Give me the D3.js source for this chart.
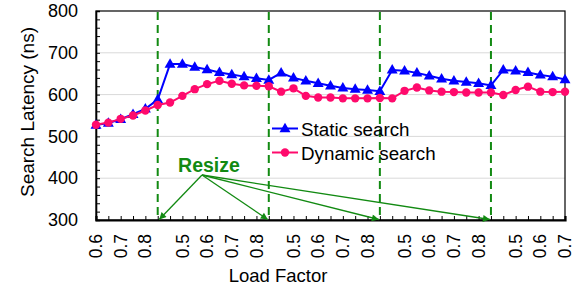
<!DOCTYPE html>
<html>
<head>
<meta charset="utf-8">
<script src="https://cdn.jsdelivr.net/npm/d3@7/dist/d3.min.js"></script>
<style>
  html, body { margin: 0; padding: 0; background: #fff; }
  svg { display: block; font-family: Arial, "Liberation Sans", sans-serif; }
</style>
</head>
<body>
<svg id="chart" width="581" height="289"></svg>
<script>
// ---- data ----
const tickLabels = ["0.6","","0.7","","0.8","","","0.5","","0.6","","0.7","","0.8","","",
  "0.5","","0.6","","0.7","","0.8","","","0.5","","0.6","","0.7","","0.8","","",
  "0.5","","0.6","","0.7"];
const staticSearch = [527,532,541,553,566,588,673,673,666,660,653,648,643,639,635,652,640,633,627,621,
  616,613,611,608,659,657,652,645,638,633,630,627,622,659,657,653,647,643,636];
const dynamicSearch = [528,533,542,550,562,575,581,597,613,625,633,626,622,621,620,607,615,597,593,593,
  591,591,591,592,591,609,617,610,607,606,605,605,605,599,611,619,607,606,607];
const resizeAt = [5,14,23,32];
const yTicks = [300,400,500,600,700,800];
const seriesNames = ["Static search","Dynamic search"];

// ---- layout ----
const L = 96, R = 565, T = 11, B = 220;
const svg = d3.select("#chart");
const idx = d3.range(tickLabels.length);
const x = d3.scalePoint().domain(idx).range([L, R]);
const y = d3.scaleLinear().domain([300, 800]).range([B, T]);

const blue = "#0000ff", pink = "#ff0a6c", green = "#128a12";

// gridlines
svg.append("g").selectAll("line").data(yTicks.filter(v => v > 300 && v < 800)).join("line")
  .attr("x1", L).attr("x2", R).attr("y1", d => y(d)).attr("y2", d => y(d))
  .attr("stroke", "#d9d9d9").attr("stroke-width", 1);

// frame
svg.append("rect").attr("x", L).attr("y", T).attr("width", R - L).attr("height", B - T)
  .attr("fill", "none").attr("stroke", "#000").attr("stroke-width", 1.2);

// y axis
const yAxis = svg.append("g").attr("transform", `translate(${L},0)`)
  .call(d3.axisLeft(y).tickValues(d3.range(300, 801, 20)).tickSize(-4).tickPadding(18)
    .tickFormat(d => yTicks.includes(d) ? d : ""));
yAxis.select(".domain").attr("stroke-width", 1.6);
yAxis.selectAll(".tick line").attr("stroke-width", 1);
yAxis.selectAll("text").attr("font-size", 18).attr("fill", "#000").attr("font-family", "Arial, 'Liberation Sans', sans-serif");

// x axis
const xAxis = svg.append("g").attr("transform", `translate(0,${B})`)
  .call(d3.axisBottom(x).tickSize(-4).tickFormat(""));
xAxis.select(".domain").attr("stroke-width", 2.2);
xAxis.selectAll(".tick line").attr("stroke-width", 1);

svg.append("g").selectAll("text").data(idx.filter(i => tickLabels[i] !== "")).join("text")
  .attr("transform", i => `translate(${x(i)},234) rotate(-90)`)
  .attr("dy", "0.35em").attr("text-anchor", "end")
  .attr("font-size", 17.5).attr("fill", "#000")
  .text(i => tickLabels[i]);

// axis titles
svg.append("text").attr("x", 278).attr("y", 281.5).attr("text-anchor", "middle")
  .attr("font-size", 18.5).text("Load Factor");
svg.append("text").attr("transform", "translate(34,112) rotate(-90)").attr("text-anchor", "middle")
  .attr("font-size", 19).text("Search Latency (ns)");

// resize dashed lines
svg.append("g").selectAll("line").data(resizeAt).join("line")
  .attr("x1", d => x(d)).attr("x2", d => x(d)).attr("y1", T + 1).attr("y2", B)
  .attr("stroke", green).attr("stroke-width", 2).attr("stroke-dasharray", "8,5");

// series
const line = d3.line().x((d, i) => x(i)).y(d => y(d));
const tri = d3.symbol().type(d3.symbolTriangle).size(52);

function drawSeries(vals, color, marker) {
  const g = svg.append("g");
  g.append("path").datum(vals).attr("d", line).attr("fill", "none")
    .attr("stroke", color).attr("stroke-width", 2);
  if (marker === "tri") {
    g.selectAll("path.m").data(vals).join("path").attr("class", "m")
      .attr("d", tri).attr("transform", (d, i) => `translate(${x(i)},${y(d) + 0.5})`).attr("fill", color);
  } else {
    g.selectAll("circle").data(vals).join("circle")
      .attr("cx", (d, i) => x(i)).attr("cy", d => y(d)).attr("r", 4.2).attr("fill", color);
  }
}
drawSeries(staticSearch, blue, "tri");
drawSeries(dynamicSearch, pink, "circ");

// legend
const lg = [{name: seriesNames[0], color: blue, m: "tri", y: 128.5},
            {name: seriesNames[1], color: pink, m: "circ", y: 152.5}];
lg.forEach(d => {
  svg.append("line").attr("x1", 272).attr("x2", 298).attr("y1", d.y).attr("y2", d.y)
    .attr("stroke", d.color).attr("stroke-width", 2);
  if (d.m === "tri") svg.append("path").attr("d", tri).attr("transform", `translate(285,${d.y + 0.5})`).attr("fill", d.color);
  else svg.append("circle").attr("cx", 285).attr("cy", d.y).attr("r", 4.2).attr("fill", d.color);
  svg.append("text").attr("x", 301).attr("y", d.y + 7.5).attr("font-size", 18.8).attr("fill", "#000").text(d.name);
});

// resize annotation
const defs = svg.append("defs");
defs.append("marker").attr("id", "arr").attr("viewBox", "0 0 10 10").attr("refX", 10).attr("refY", 5)
  .attr("markerWidth", 9).attr("markerHeight", 7).attr("markerUnits", "userSpaceOnUse").attr("orient", "auto")
  .append("path").attr("d", "M0,0 L10,5 L0,10 Z").attr("fill", green);
const ox = 202, oy = 175;
svg.append("g").selectAll("line").data(resizeAt).join("line")
  .attr("x1", ox).attr("y1", oy)
  .attr("x2", (d, i) => x(d) + (i === 0 ? 1.5 : -1)).attr("y2", B - 0.5)
  .attr("stroke", green).attr("stroke-width", 1.3).attr("marker-end", "url(#arr)");
svg.append("text").attr("x", 209).attr("y", 171.5).attr("text-anchor", "middle")
  .attr("font-size", 19.5).attr("font-weight", "bold").attr("fill", green).text("Resize");
</script>
</body>
</html>
